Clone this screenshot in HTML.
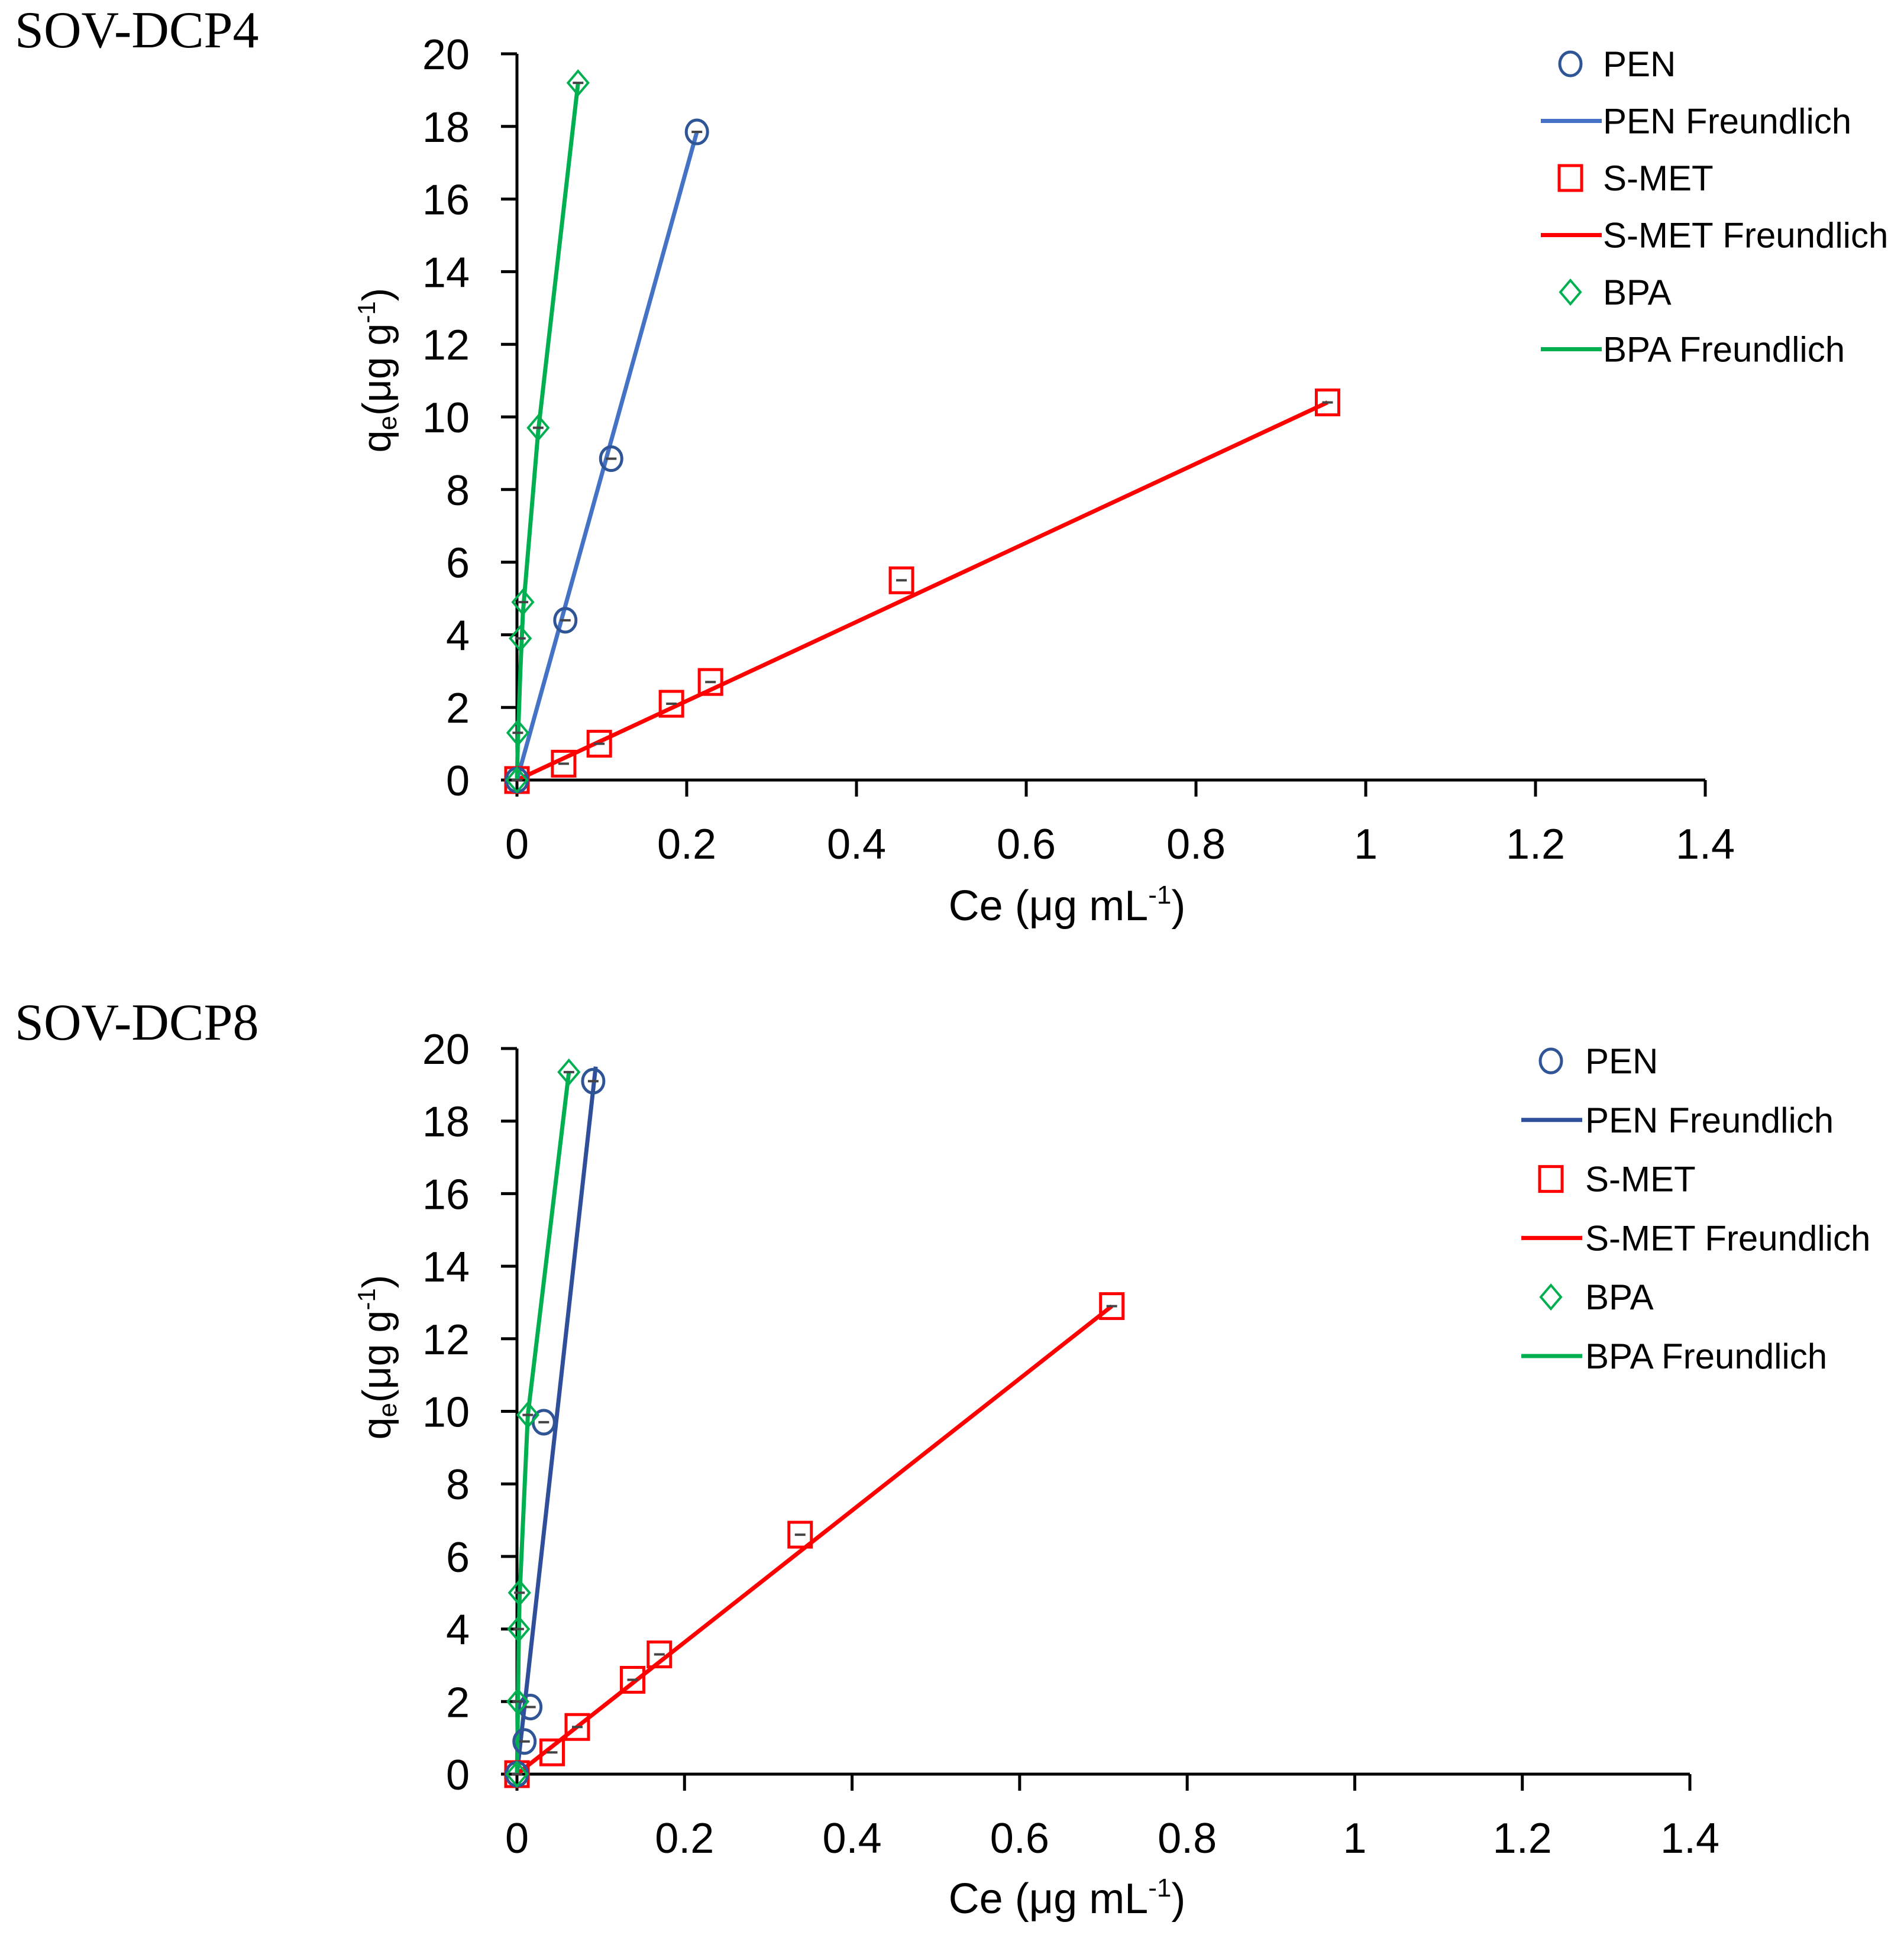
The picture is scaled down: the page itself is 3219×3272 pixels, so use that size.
<!DOCTYPE html>
<html><head><meta charset="utf-8">
<style>
html,body{margin:0;padding:0;background:#fff;}
svg{display:block;font-family:"Liberation Sans",sans-serif;}
</style></head>
<body>
<svg id="chart" width="3219" height="3272" viewBox="0 0 3219 3272" xmlns="http://www.w3.org/2000/svg">
<text x="25" y="80" font-family="Liberation Serif, serif" font-size="88">SOV-DCP4</text>
<text x="25" y="1758" font-family="Liberation Serif, serif" font-size="88">SOV-DCP8</text>
</svg>
<script>
// ---- data: SOV-DCP4 ----
const xTicks = [0, 0.2, 0.4, 0.6, 0.8, 1, 1.2, 1.4];
const xTickLabels = ["0","0.2","0.4","0.6","0.8","1","1.2","1.4"];
const yTicks = [0,2,4,6,8,10,12,14,16,18,20];
const yTickLabels = ["0","2","4","6","8","10","12","14","16","18","20"];

const p1PenX = [0, 0.057, 0.111, 0.212];
const p1PenY = [0, 4.4, 8.85, 17.85];
const p1PenFitX = [0, 0.212];
const p1PenFitY = [0, 17.85];
const p1SmetX = [0, 0.055, 0.097, 0.182, 0.228, 0.453, 0.955];
const p1SmetY = [0, 0.45, 1.0, 2.1, 2.7, 5.5, 10.4];
const p1SmetFitX = [0, 0.955];
const p1SmetFitY = [0, 10.4];
const p1BpaX = [0, 0.001, 0.004, 0.007, 0.025, 0.072];
const p1BpaY = [0, 1.3, 3.9, 4.9, 9.7, 19.2];
const p1BpaFitX = [0, 0.001, 0.004, 0.007, 0.025, 0.072];
const p1BpaFitY = [0, 1.0, 3.0, 4.6, 9.6, 19.2];

// ---- data: SOV-DCP8 ----
const p2PenX = [0, 0.009, 0.016, 0.032, 0.091];
const p2PenY = [0, 0.9, 1.85, 9.7, 19.1];
const p2PenFitX = [0, 0.094];
const p2PenFitY = [0, 19.5];
const p2SmetX = [0, 0.042, 0.072, 0.138, 0.17, 0.338, 0.71];
const p2SmetY = [0, 0.6, 1.3, 2.6, 3.3, 6.6, 12.9];
const p2SmetFitX = [0, 0.71];
const p2SmetFitY = [0, 12.9];
const p2BpaX = [0, 0.001, 0.002, 0.003, 0.013, 0.062];
const p2BpaY = [0, 2.0, 4.0, 5.0, 9.9, 19.35];
const p2BpaFitX = [0, 0.001, 0.002, 0.003, 0.013, 0.062];
const p2BpaFitY = [0, 1.6, 3.4, 4.8, 9.9, 19.35];

const NS = "http://www.w3.org/2000/svg";
const svg = document.getElementById('chart');
function mk(tag, attrs, parent){
  const e = document.createElementNS(NS, tag);
  for (const k in attrs) e.setAttribute(k, attrs[k]);
  (parent||svg).appendChild(e);
  return e;
}

function panel(cfg){
  const g = mk('g', {});
  
  
  const X = v => cfg.x0 + (v/1.4)*(cfg.x1-cfg.x0);
  const Y = v => cfg.y0 - (v/20)*(cfg.y0-cfg.y20);
  const ya = mk('line', {x1:cfg.x0, y1:cfg.y20, x2:cfg.x0, y2:cfg.y0, stroke:'#000','stroke-width':5}, g);
  
  
  const xa = mk('line', {x1:cfg.x0-27, y1:cfg.y0, x2:cfg.x1, y2:cfg.y0, stroke:'#000','stroke-width':5}, g);
  
  
  yTicks.forEach((t,i)=>{
    const yy = Y(t);
    mk('line', {x1:cfg.x0-27, y1:yy, x2:cfg.x0, y2:yy, stroke:'#000','stroke-width':5}, g);
    const tx = mk('text', {x:cfg.x0-80, y:yy+26, 'font-size':72, 'text-anchor':'end'}, g);
    tx.textContent = yTickLabels[i];
    
    
  });
  xTicks.forEach((t,i)=>{
    const xx = X(t);
    mk('line', {x1:xx, y1:cfg.y0, x2:xx, y2:cfg.y0+28, stroke:'#000','stroke-width':5}, g);
    const tx = mk('text', {x:xx, y:cfg.y0+133, 'font-size':72, 'text-anchor':'middle'}, g);
    tx.textContent = xTickLabels[i];
    
    
  });
  const yt = mk('text', {x:0, y:0, 'font-size':68, 'text-anchor':'middle', transform:`translate(${cfg.ytx},${cfg.yty}) rotate(-90)`}, g);
  yt.innerHTML = 'q<tspan font-size="44" dy="10">e</tspan><tspan dy="-10">(μg g</tspan><tspan font-size="42" dy="-26">-1</tspan><tspan dy="26">)</tspan>';
  
  
  const xt = mk('text', {x:1804, y:cfg.xty, 'font-size':72, 'text-anchor':'middle'}, g);
  xt.innerHTML = 'Ce (μg mL<tspan font-size="44" dy="-28">-1</tspan><tspan dy="28">)</tspan>';
  
  

  function fit(xs, ys, color, nm){
    const pts = xs.map((v,i)=>X(v)+','+Y(ys[i])).join(' ');
    const l = mk('polyline', {points:pts, fill:'none', stroke:color, 'stroke-width':7, 'stroke-linejoin':'round'}, g);
    
    
  }
  function marker(type, cx, cy, color, parent){
    let m;
    if (type==='circle') m = mk('ellipse', {cx:cx, cy:cy, rx:18, ry:20, fill:'none', stroke:color, 'stroke-width':5}, parent);
    else if (type==='square') m = mk('rect', {x:cx-19, y:cy-21, width:38, height:42, fill:'none', stroke:color, 'stroke-width':5}, parent);
    else m = mk('polygon', {points:`${cx},${cy-20} ${cx+17},${cy} ${cx},${cy+20} ${cx-17},${cy}`, fill:'none', stroke:color, 'stroke-width':4}, parent);
    return m;
  }
  function pts(xs, ys, type, color, nm){
    xs.forEach((v,i)=>{
      const cx = X(v), cy = Y(ys[i]);
      const m = marker(type, cx, cy, color, g);
      
      
      mk('line', {x1:cx-9, y1:cy, x2:cx+9, y2:cy, stroke:'#444', 'stroke-width':4}, g);
    });
  }
  fit(cfg.smetFitX, cfg.smetFitY, '#FF0000', 'smet-freundlich-line');
  fit(cfg.penFitX, cfg.penFitY, cfg.penColor, 'pen-freundlich-line');
  fit(cfg.bpaFitX, cfg.bpaFitY, '#00B050', 'bpa-freundlich-line');
  pts(cfg.smetX, cfg.smetY, 'square', '#FF0000', 'smet-point');
  pts(cfg.penX, cfg.penY, 'circle', cfg.penMarker, 'pen-point');
  pts(cfg.bpaX, cfg.bpaY, 'diamond', '#00B050', 'bpa-point');

  const lg = mk('g', {}, g);
  
  
  const entries = [
    ['PEN','circle',cfg.penMarker],['PEN Freundlich','line',cfg.penColor],
    ['S-MET','square','#FF0000'],['S-MET Freundlich','line','#FF0000'],
    ['BPA','diamond','#00B050'],['BPA Freundlich','line','#00B050']];
  entries.forEach((e,i)=>{
    const cy = cfg.legY0 + i*cfg.legDy;
    const eg = mk('g', {}, lg);
    
    
    if (e[1]==='line') mk('line', {x1:cfg.legMx-50, y1:cy, x2:cfg.legMx+53, y2:cy, stroke:e[2], 'stroke-width':7}, eg);
    else marker(e[1], cfg.legMx, cy, e[2], eg);
    const t = mk('text', {x:cfg.legTx, y:cy+21, 'font-size':60}, eg);
    t.textContent = e[0];
  });
}

panel({name:'chart-sov-dcp4', x0:874, x1:2883, y0:1319, y20:91, ytx:660, yty:626, xty:1556,
  penColor:'#4472C4', penMarker:'#2F5597',
  penX:p1PenX, penY:p1PenY, penFitX:p1PenFitX, penFitY:p1PenFitY,
  smetX:p1SmetX, smetY:p1SmetY, smetFitX:p1SmetFitX, smetFitY:p1SmetFitY,
  bpaX:p1BpaX, bpaY:p1BpaY, bpaFitX:p1BpaFitX, bpaFitY:p1BpaFitY,
  legMx:2655, legTx:2710, legY0:108, legDy:96.5});
panel({name:'chart-sov-dcp8', x0:874, x1:2857, y0:3000, y20:1773, ytx:660, yty:2295, xty:3235,
  penColor:'#2F4F9A', penMarker:'#2F5597',
  penX:p2PenX, penY:p2PenY, penFitX:p2PenFitX, penFitY:p2PenFitY,
  smetX:p2SmetX, smetY:p2SmetY, smetFitX:p2SmetFitX, smetFitY:p2SmetFitY,
  bpaX:p2BpaX, bpaY:p2BpaY, bpaFitX:p2BpaFitX, bpaFitY:p2BpaFitY,
  legMx:2622, legTx:2680, legY0:1794, legDy:99.8});
</script>
</body></html>
